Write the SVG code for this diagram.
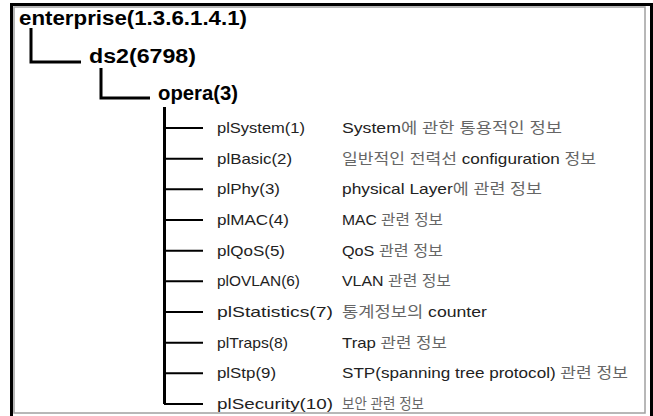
<svg xmlns="http://www.w3.org/2000/svg" width="653" height="416" viewBox="0 0 653 416">
  <style>
    .head { font-family: "Liberation Sans", Arial, sans-serif; font-weight: bold; font-size: 20px; fill: #000; }
    .oid { font-family: "Liberation Sans", Arial, sans-serif; font-size: 15px; fill: #222; }
    .desc { font-family: "Liberation Sans", "Noto Sans CJK KR", sans-serif; font-size: 15px; fill: #222; }
    .ko { fill: #666; }
    .tree { fill: none; stroke: #000; stroke-width: 3; }
    .branch { fill: none; stroke: #000; stroke-width: 2; }
  </style>
  <rect x="0" y="0" width="653" height="416" fill="#fff"/>

  <!-- frame -->
  <g id="frame">
    <path d="M11.5 416 V4.5 H651.5 V416" fill="none" stroke="#000" stroke-width="3"/>
    <rect x="14" y="7" width="631" height="406" fill="none" stroke="#a0a0a0" stroke-width="1.5"/>
  </g>

  <!-- connectors -->
  <g id="connectors">
    <path class="tree" d="M31 28 V62 H81"/>
    <path class="tree" d="M101 68 V98 H150"/>
    <path class="tree" d="M164.5 107 V404"/>
    <path class="branch" d="M164 128 H203 M164 158.7 H203 M164 189.3 H203 M164 220 H203 M164 250.7 H203 M164 281.3 H203 M164 312 H203 M164 342.7 H203 M164 373.3 H203 M164 404 H203"/>
  </g>

  <g id="enterprise"><text class="head" x="19" y="25" textLength="228" lengthAdjust="spacingAndGlyphs">enterprise(1.3.6.1.4.1)</text></g>
  <g id="ds2"><text class="head" x="89" y="63" textLength="107" lengthAdjust="spacingAndGlyphs">ds2(6798)</text></g>
  <g id="opera"><text class="head" x="158" y="100" textLength="80" lengthAdjust="spacingAndGlyphs">opera(3)</text></g>

  <g id="plSystem">
    <text class="oid" x="217" y="133" textLength="88" lengthAdjust="spacingAndGlyphs">plSystem(1)</text>
    <text class="desc" x="342" y="133" textLength="220" lengthAdjust="spacingAndGlyphs">System<tspan class="ko">에 관한 통용적인 정보</tspan></text>
  </g>
  <g id="plBasic">
    <text class="oid" x="217" y="163.7" textLength="75" lengthAdjust="spacingAndGlyphs">plBasic(2)</text>
    <text class="desc" x="342" y="163.7" textLength="254" lengthAdjust="spacingAndGlyphs"><tspan class="ko">일반적인 전력선 </tspan>configuration<tspan class="ko"> 정보</tspan></text>
  </g>
  <g id="plPhy">
    <text class="oid" x="217" y="194.3" textLength="63" lengthAdjust="spacingAndGlyphs">plPhy(3)</text>
    <text class="desc" x="342" y="194.3" textLength="200" lengthAdjust="spacingAndGlyphs">physical Layer<tspan class="ko">에 관련 정보</tspan></text>
  </g>
  <g id="plMAC">
    <text class="oid" x="217" y="225" textLength="72" lengthAdjust="spacingAndGlyphs">plMAC(4)</text>
    <text class="desc" x="342" y="225" textLength="101" lengthAdjust="spacingAndGlyphs">MAC <tspan class="ko">관련 정보</tspan></text>
  </g>
  <g id="plQoS">
    <text class="oid" x="217" y="255.7" textLength="68" lengthAdjust="spacingAndGlyphs">plQoS(5)</text>
    <text class="desc" x="342" y="255.7" textLength="101" lengthAdjust="spacingAndGlyphs">QoS <tspan class="ko">관련 정보</tspan></text>
  </g>
  <g id="plOVLAN">
    <text class="oid" x="217" y="286.3" textLength="83" lengthAdjust="spacingAndGlyphs">plOVLAN(6)</text>
    <text class="desc" x="342" y="286.3" textLength="109" lengthAdjust="spacingAndGlyphs">VLAN <tspan class="ko">관련 정보</tspan></text>
  </g>
  <g id="plStatistics">
    <text class="oid" x="217" y="317" textLength="116" lengthAdjust="spacingAndGlyphs">plStatistics(7)</text>
    <text class="desc" x="342" y="317" textLength="145" lengthAdjust="spacingAndGlyphs"><tspan class="ko">통계정보의 </tspan>counter</text>
  </g>
  <g id="plTraps">
    <text class="oid" x="217" y="347.7" textLength="71" lengthAdjust="spacingAndGlyphs">plTraps(8)</text>
    <text class="desc" x="342" y="347.7" textLength="105" lengthAdjust="spacingAndGlyphs">Trap <tspan class="ko">관련 정보</tspan></text>
  </g>
  <g id="plStp">
    <text class="oid" x="217" y="378.3" textLength="59" lengthAdjust="spacingAndGlyphs">plStp(9)</text>
    <text class="desc" x="342" y="378.3" textLength="286" lengthAdjust="spacingAndGlyphs">STP(spanning tree protocol) <tspan class="ko">관련 정보</tspan></text>
  </g>
  <g id="plSecurity">
    <text class="oid" x="217" y="409" textLength="116" lengthAdjust="spacingAndGlyphs">plSecurity(10)</text>
    <text class="desc" x="342" y="409" textLength="82" lengthAdjust="spacingAndGlyphs"><tspan class="ko">보안 관련 정보</tspan></text>
  </g>
</svg>
